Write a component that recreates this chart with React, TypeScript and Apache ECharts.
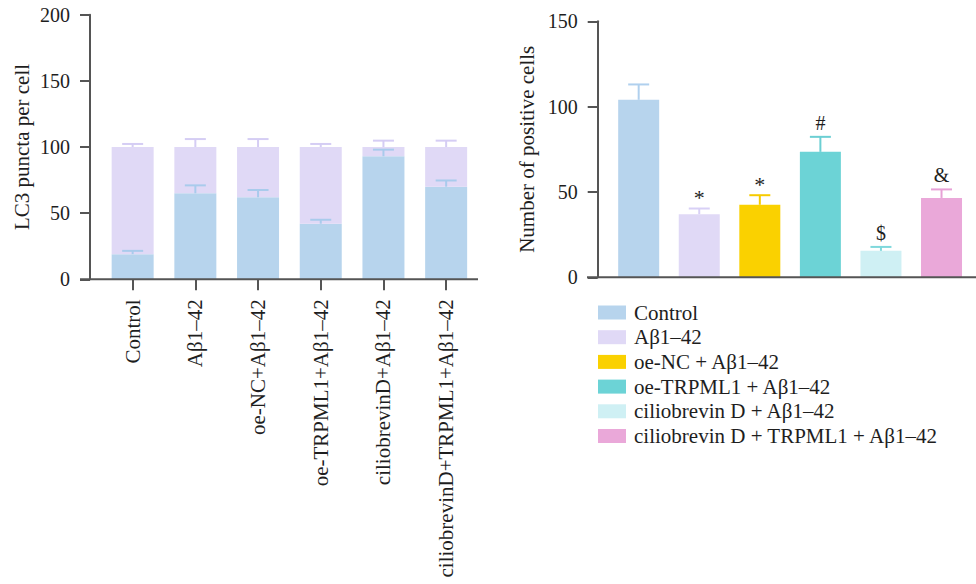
import React, { useEffect, useRef } from "react";
import * as echarts from "echarts";

// ---------- Data ----------
const leftCategories = [
  "Control",
  "Aβ1–42",
  "oe-NC+Aβ1–42",
  "oe-TRPML1+Aβ1–42",
  "ciliobrevinD+Aβ1–42",
  "ciliobrevinD+TRPML1+Aβ1–42",
];
const lc3Lower = [19, 65, 62, 42, 93, 70];
const lc3LowerErr = [2.5, 6, 5.5, 3, 5, 4.7];
const lc3Upper = [81, 35, 38, 58, 7, 30];
const lc3UpperErr = [2.3, 6, 6, 2.3, 4.8, 4.8];

const rightGroups = [
  "Control",
  "Aβ1–42",
  "oe-NC + Aβ1–42",
  "oe-TRPML1 + Aβ1–42",
  "ciliobrevin D + Aβ1–42",
  "ciliobrevin D + TRPML1 + Aβ1–42",
];
const positiveCells = [104, 37, 42.5, 73.5, 15.5, 46.5];
const positiveErr = [9, 3.3, 5.6, 8.8, 2.3, 5];
const significance = ["", "*", "*", "#", "$", "&"];

const leftAxisMax = 200;
const rightAxisMax = 150;
const axisInterval = 50;

// ---------- Styles ----------
const FONT = '"Liberation Serif", "DejaVu Serif", serif';
const AXIS_COLOR = "#555555";
const TEXT_COLOR = "#1e1e1e";
const blueColor = "#b7d4ed";
const purpleColor = "#e0d9f6";
const blueErrColor = "#a9cbec";
const purpleErrColor = "#d5cdf4";
const rightColors = ["#b7d4ed", "#e0d9f6", "#fad100", "#6cd3d6", "#cff0f4", "#eaa8d9"];
const rightErrColors = ["#b0d0ee", "#d8d0f6", "#f7cb00", "#6ccfd3", "#7fd8dc", "#e7a0d6"];

function errorRender(colorFn: (i: number) => string, capHalf: number, withMarks: boolean) {
  return (params: any, api: any) => {
    const idx = params.dataIndex;
    const x = api.value(0);
    const top = api.value(1);
    const err = api.value(2);
    const p0 = api.coord([x, top]);
    const p1 = api.coord([x, top + err]);
    const color = colorFn(idx);
    const children: any[] = [
      {
        type: "line",
        shape: { x1: p0[0], y1: p0[1], x2: p1[0], y2: p1[1] },
        style: { stroke: color, lineWidth: 2 },
      },
      {
        type: "line",
        shape: { x1: p1[0] - capHalf, y1: p1[1], x2: p1[0] + capHalf, y2: p1[1] },
        style: { stroke: color, lineWidth: 2 },
      },
    ];
    if (withMarks && significance[idx]) {
      const mark = significance[idx];
      const isStar = mark === "*";
      children.push({
        type: "text",
        x: p1[0],
        y: p1[1] - (isStar ? 0 : 4),
        style: {
          text: mark,
          fill: TEXT_COLOR,
          font: `${isStar ? 22 : 20}px ${FONT}`,
          align: "center",
          verticalAlign: "bottom",
        },
      });
    }
    return { type: "group", children };
  };
}

export default function App() {
  const ref = useRef<HTMLDivElement>(null);

  useEffect(() => {
    if (!ref.current) return;
    const chart = echarts.init(ref.current, null, { renderer: "svg" });

    const rightSeries = rightGroups.map((name, i) => ({
      name,
      type: "bar",
      xAxisIndex: 1,
      yAxisIndex: 1,
      barWidth: 41,
      barGap: "-100%",
      itemStyle: { color: rightColors[i] },
      data: positiveCells.map((v, j) => (j === i ? v : "-")),
      z: 2,
    }));

    const option: any = {
      animation: false,
      backgroundColor: "#ffffff",
      textStyle: { fontFamily: FONT },
      grid: [
        { left: 101.3, top: 14.7, width: 376.2, height: 264.6 },
        { left: 608.4, top: 21.3, width: 363.4, height: 256 },
      ],
      xAxis: [
        {
          type: "category",
          gridIndex: 0,
          data: leftCategories,
          axisLine: { show: false },
          axisTick: {
            show: true,
            alignWithLabel: true,
            length: 11,
            lineStyle: { color: AXIS_COLOR, width: 2 },
          },
          axisLabel: {
            rotate: 90,
            margin: 20,
            color: TEXT_COLOR,
            fontSize: 21,
            fontFamily: FONT,
            interval: 0,
          },
        },
        {
          type: "category",
          gridIndex: 1,
          data: rightGroups,
          axisLine: { show: false },
          axisTick: { show: false },
          axisLabel: { show: false },
        },
      ],
      yAxis: [
        {
          type: "value",
          gridIndex: 0,
          min: 0,
          max: leftAxisMax,
          interval: axisInterval,
          offset: 11.3,
          name: "LC3 puncta per cell",
          nameLocation: "middle",
          nameGap: 58,
          nameTextStyle: { fontSize: 21, color: TEXT_COLOR, fontFamily: FONT },
          axisLine: { show: true, lineStyle: { color: AXIS_COLOR, width: 2 } },
          axisTick: { show: true, length: 10, lineStyle: { color: AXIS_COLOR, width: 2 } },
          axisLabel: { margin: 20, fontSize: 20, color: TEXT_COLOR, fontFamily: FONT },
          splitLine: { show: false },
        },
        {
          type: "value",
          gridIndex: 1,
          min: 0,
          max: rightAxisMax,
          interval: axisInterval,
          offset: 10.7,
          name: "Number of positive cells",
          nameLocation: "middle",
          nameGap: 60,
          nameTextStyle: { fontSize: 21, color: TEXT_COLOR, fontFamily: FONT },
          axisLine: { show: true, lineStyle: { color: AXIS_COLOR, width: 2 } },
          axisTick: { show: true, length: 10, lineStyle: { color: AXIS_COLOR, width: 2 } },
          axisLabel: { margin: 20, fontSize: 20, color: TEXT_COLOR, fontFamily: FONT },
          splitLine: { show: false },
        },
      ],
      legend: {
        orient: "vertical",
        left: 593,
        top: 297,
        itemWidth: 28,
        itemHeight: 14,
        itemGap: 3.7,
        icon: "rect",
        data: rightGroups,
        selectedMode: false,
        textStyle: {
          fontSize: 21,
          color: TEXT_COLOR,
          fontFamily: FONT,
          padding: [0, 0, 0, 3],
        },
      },
      graphic: [
        {
          type: "line",
          shape: { x1: 80, y1: 279.3, x2: 478, y2: 279.3 },
          style: { stroke: AXIS_COLOR, lineWidth: 2 },
          z: 10,
        },
        {
          type: "line",
          shape: { x1: 587, y1: 277.3, x2: 976, y2: 277.3 },
          style: { stroke: AXIS_COLOR, lineWidth: 2 },
          z: 10,
        },
      ],
      series: [
        {
          name: "LC3 lower",
          type: "bar",
          stack: "lc3",
          barWidth: 42,
          itemStyle: { color: blueColor },
          data: lc3Lower,
        },
        {
          name: "LC3 upper",
          type: "bar",
          stack: "lc3",
          barWidth: 42,
          itemStyle: { color: purpleColor },
          data: lc3Upper,
        },
        {
          name: "LC3 upper error",
          type: "custom",
          xAxisIndex: 0,
          yAxisIndex: 0,
          z: 5,
          renderItem: errorRender(() => purpleErrColor, 10.5, false),
          data: lc3Upper.map((v, i) => [i, lc3Lower[i] + v, lc3UpperErr[i]]),
        },
        {
          name: "LC3 lower error",
          type: "custom",
          xAxisIndex: 0,
          yAxisIndex: 0,
          z: 5,
          renderItem: errorRender(() => blueErrColor, 10.5, false),
          data: lc3Lower.map((v, i) => [i, v, lc3LowerErr[i]]),
        },
        ...rightSeries,
        {
          name: "Positive error",
          type: "custom",
          xAxisIndex: 1,
          yAxisIndex: 1,
          z: 5,
          renderItem: errorRender((i) => rightErrColors[i], 10.5, true),
          data: positiveCells.map((v, i) => [i, v, positiveErr[i]]),
        },
      ],
    };

    chart.setOption(option);
    return () => chart.dispose();
  }, []);

  return (
    <div
      ref={ref}
      style={{ position: "fixed", left: 0, top: 0, width: 976, height: 584, background: "#fff" }}
    />
  );
}
